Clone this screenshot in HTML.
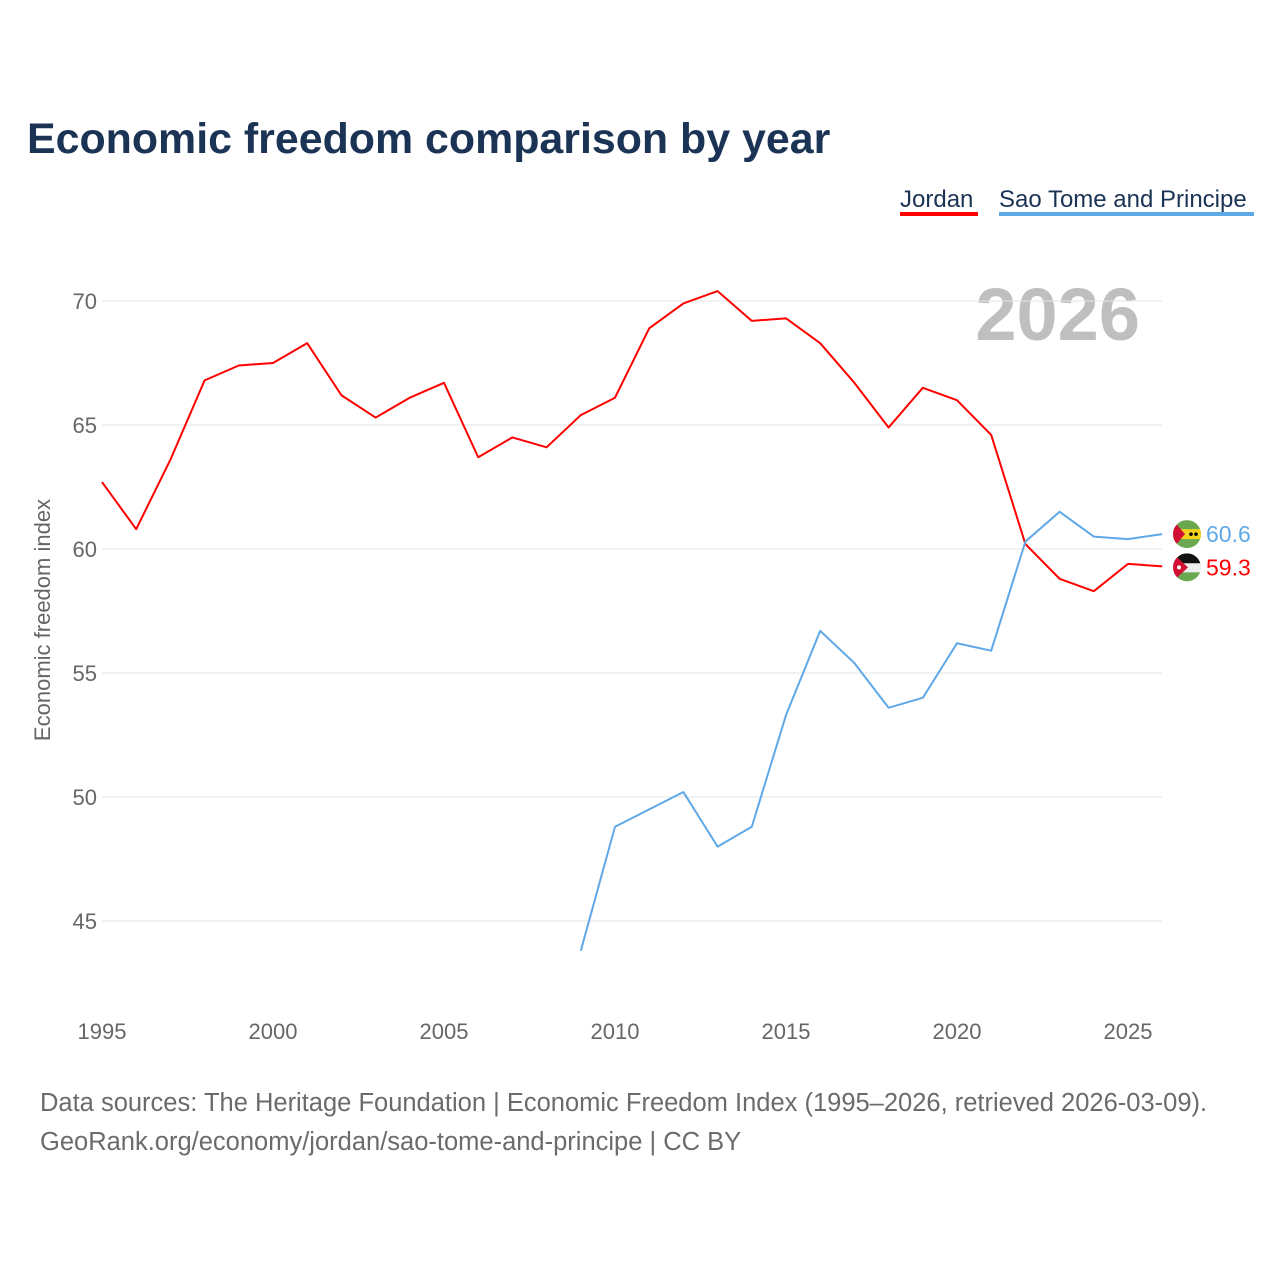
<!DOCTYPE html>
<html><head><meta charset="utf-8">
<style>
body{margin:0;background:#fff;}
#wrap{position:relative;width:1280px;height:1280px;font-family:"Liberation Sans",sans-serif;}
</style></head>
<body>
<div id="wrap">
<svg id="chart" width="1280" height="1280" xmlns="http://www.w3.org/2000/svg">
<text x="27" y="153" font-size="42.9" font-weight="bold" fill="#1b3355">Economic freedom comparison by year</text>
<g>
<text x="900" y="207" font-size="24" fill="#1b3355">Jordan</text>
<rect x="900" y="212" width="78" height="4" fill="#ff0000"/>
</g>
<g>
<text x="999" y="207" font-size="24" fill="#1b3355">Sao Tome and Principe</text>
<rect x="999" y="212" width="255" height="4" fill="#5fa8e8"/>
</g>
<text x="1140" y="340" font-size="74" font-weight="bold" fill="#bfbfbf" text-anchor="end">2026</text>
<text transform="translate(50,620) rotate(-90)" font-size="22" fill="#666" text-anchor="middle">Economic freedom index</text>
<g id="grid"></g><g id="lines"></g><g id="endlabels"></g>
<text x="40" y="1111" font-size="25.5" fill="#6b6b6b">Data sources: The Heritage Foundation | Economic Freedom Index (1995–2026, retrieved 2026-03-09).</text>
<text x="40" y="1150" font-size="25.5" fill="#6b6b6b">GeoRank.org/economy/jordan/sao-tome-and-principe | CC BY</text>
</svg>
</div>
<script>
const yTicks=[45,50,55,60,65,70];
const xTicks=[1995,2000,2005,2010,2015,2020,2025];
const jordanYears=[1995,1996,1997,1998,1999,2000,2001,2002,2003,2004,2005,2006,2007,2008,2009,2010,2011,2012,2013,2014,2015,2016,2017,2018,2019,2020,2021,2022,2023,2024,2025,2026];
const jordanValues=[62.7,60.8,63.6,66.8,67.4,67.5,68.3,66.2,65.3,66.1,66.7,63.7,64.5,64.1,65.4,66.1,68.9,69.9,70.4,69.2,69.3,68.3,66.7,64.9,66.5,66.0,64.6,60.2,58.8,58.3,59.4,59.3];
const stpYears=[2009,2010,2011,2012,2013,2014,2015,2016,2017,2018,2019,2020,2021,2022,2023,2024,2025,2026];
const stpValues=[43.8,48.8,49.5,50.2,48.0,48.8,53.3,56.7,55.4,53.6,54.0,56.2,55.9,60.3,61.5,60.5,60.4,60.6];
const NS="http://www.w3.org/2000/svg";
const X=y=>102+(y-1995)*(1128-102)/30;
const Y=v=>301+(70-v)*24.8;
function mk(t,a,p){const e=document.createElementNS(NS,t);for(const k in a)e.setAttribute(k,a[k]);p.appendChild(e);return e;}
const grid=document.getElementById('grid');
yTicks.forEach(v=>{
  const l=mk('line',{x1:102,x2:1162,y1:Y(v),y2:Y(v),stroke:'#e6e6e6','stroke-width':1},grid);
  
  
  const t=mk('text',{x:97,y:Y(v)+8,'font-size':22,fill:'#666','text-anchor':'end'},grid);
  t.textContent=v;
  
  
});
xTicks.forEach(v=>{
  const t=mk('text',{x:X(v),y:1039,'font-size':22,fill:'#666','text-anchor':'middle'},grid);
  t.textContent=v;
  
  
});
const lines=document.getElementById('lines');
function series(years,vals,color,name){
  const p=mk('polyline',{points:years.map((y,i)=>X(y)+','+Y(vals[i])).join(' '),fill:'none',stroke:color,'stroke-width':2,'stroke-linejoin':'round'},lines);
  
  
}
series(jordanYears,jordanValues,'#ff0000','jordan-line');
series(stpYears,stpValues,'#5fa8e8','sao-tome-line');
const el=document.getElementById('endlabels');
function flag(cx,cy,kind){
  const g=mk('g',{},el);
  
  
  const id='c'+kind;
  const cp=mk('clipPath',{id:id},g);mk('circle',{cx:cx,cy:cy,r:14},cp);
  const h=mk('g',{'clip-path':'url(#'+id+')'},g);
  if(kind==='stp'){
    mk('rect',{x:cx-14,y:cy-14,width:28,height:28,fill:'#6aa84f'},h);
    mk('rect',{x:cx-14,y:cy-5,width:28,height:10,fill:'#f7d21c'},h);
    mk('polygon',{points:(cx-14)+','+(cy-14)+' '+(cx-2)+','+cy+' '+(cx-14)+','+(cy+14),fill:'#d21034'},h);
    mk('circle',{cx:cx+4,cy:cy,r:1.8,fill:'#000'},h);mk('circle',{cx:cx+9,cy:cy,r:1.8,fill:'#000'},h);
  } else {
    mk('rect',{x:cx-14,y:cy-14,width:28,height:10,fill:'#111'},h);
    mk('rect',{x:cx-14,y:cy-4,width:28,height:9,fill:'#eee'},h);
    mk('rect',{x:cx-14,y:cy+5,width:28,height:10,fill:'#6aa84f'},h);
    mk('polygon',{points:(cx-14)+','+(cy-14)+' '+(cx+1)+','+cy+' '+(cx-14)+','+(cy+14),fill:'#d21034'},h);
    mk('circle',{cx:cx-8,cy:cy,r:2,fill:'#fff'},h);
  }
}
const lastS=stpValues[stpValues.length-1], lastJ=jordanValues[jordanValues.length-1];
flag(1187,Y(lastS),'stp');
flag(1187,Y(lastJ)+1,'jordan');
let t=mk('text',{x:1206,y:Y(lastS)+8,'font-size':23,fill:'#5fa8e8'},el);t.textContent=lastS.toFixed(1);


t=mk('text',{x:1206,y:Y(lastJ)+9,'font-size':23,fill:'#ff0000'},el);t.textContent=lastJ.toFixed(1);


</script>
</body></html>
